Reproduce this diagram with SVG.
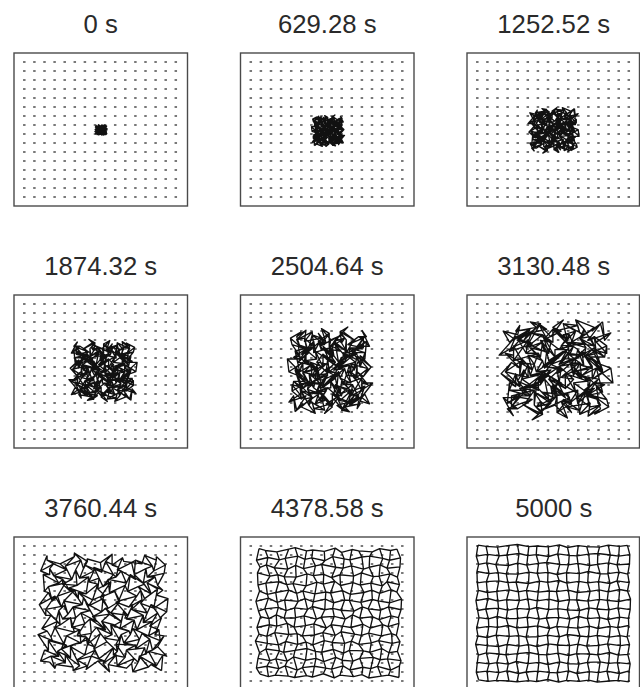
<svg xmlns="http://www.w3.org/2000/svg" width="640" height="687" viewBox="0 0 640 687">
<style>
.box{fill:#fff;stroke:#4a4a4a;stroke-width:1.4}
.t{font-family:"Liberation Sans",Arial,sans-serif;font-size:25.7px;fill:#2a2a2a;text-anchor:middle}
.dots{fill:none;stroke:#4d4d4d;stroke-width:1.6;stroke-dasharray:2.5 7.6}
.m{fill:none;stroke:#111;stroke-width:1.35;stroke-linejoin:round;vector-effect:non-scaling-stroke}
</style>
<defs>
<path id="dots" class="dots" d="M-1.25 0h154M-1.25 9h154M-1.25 18h154M-1.25 27h154M-1.25 36h154M-1.25 45h154M-1.25 54h154M-1.25 63h154M-1.25 72h154M-1.25 81h154M-1.25 90h154M-1.25 99h154M-1.25 108h154M-1.25 117h154M-1.25 126h154M-1.25 135h154"/>
<path id="meshT" class="m" d="M2,-3L-1,1 6,4 14,-2 11,-5 18,2 15,0 22,3 28,-4 25,5 30,-1 28,2 39,4 38,-3 44,1 41,-2
M-3,7L4,1 11,6 7,3 16,-2 15,5 13,2 23,8 23,-1 30,4 26,6 34,0 34,-2 44,3 42,7 48,2
M4,7L1,2 1,8 12,11 12,3 12,10 20,4 17,1 29,7 28,9 29,4 37,11 33,7 39,2 37,9 47,6
M-1,4L8,11 8,8 5,12 13,13 19,6 16,10 21,7 21,14 22,8 33,11 33,4 41,12 37,11 43,6 42,13
M0,15L0,11 10,8 10,14 7,12 17,17 23,9 20,13 27,7 23,16 32,10 31,15 36,11 43,17 37,8 46,14
M3,13L3,20 4,16 14,11 14,18 11,13 19,19 25,15 19,17 27,12 27,20 38,16 38,11 38,18 45,10 41,15
M-4,20L5,13 7,22 6,17 17,20 15,14 16,21 24,15 25,23 31,17 25,18 32,22 39,16 35,19 42,23 50,15
M1,26L-2,21 9,18 9,25 10,19 20,22 14,16 23,23 23,20 24,24 34,26 35,17 31,21 40,24 40,17 49,23
M5,23L6,27 5,19 5,26 12,25 13,21 22,28 16,24 26,22 32,28 31,19 30,26 40,23 37,29 45,21 44,25
M-2,31L7,25 6,28 11,22 9,30 16,27 17,23 26,32 20,25 27,28 28,31 36,24 35,32 44,25 39,29 45,22
M2,30L2,35 2,27 14,31 15,29 10,34 18,32 19,27 28,33 24,25 35,30 33,33 32,28 41,34 46,29 40,33
M-5,30L3,35 9,38 8,31 16,37 17,32 15,38 22,29 22,33 31,35 29,30 28,37 37,34 36,29 47,35 47,31
M3,40L0,32 11,36 4,39 11,35 19,31 20,37 17,39 24,33 29,41 25,35 37,36 34,39 42,31 41,40 42,37
M0,37L8,42 4,38 11,43 8,34 16,41 21,37 21,44 29,35 26,41 32,43 30,37 41,35 39,40 38,38 49,42
M-3,43L2,39 10,44 7,38 15,47 10,42 18,39 25,43 21,45 28,38 26,47 36,41 36,44 34,39 44,47 46,38
M4,41L5,46 3,43 13,45 10,48 18,44 14,47 20,40 26,49 22,43 33,46 34,42 32,49 41,45 40,43 45,48
M2,-3L-3,7 4,7 -1,4 0,15 3,13 -4,20 1,26 5,23 -2,31 2,30 -5,30 3,40 0,37 -3,43 4,41
M-1,1L4,1 1,2 8,11 0,11 3,20 5,13 -2,21 6,27 7,25 2,35 3,35 0,32 8,42 2,39 5,46
M6,4L11,6 1,8 8,8 10,8 4,16 7,22 9,18 5,19 6,28 2,27 9,38 11,36 4,38 10,44 3,43
M14,-2L7,3 12,11 5,12 10,14 14,11 6,17 9,25 5,26 11,22 14,31 8,31 4,39 11,43 7,38 13,45
M11,-5L16,-2 12,3 13,13 7,12 14,18 17,20 10,19 12,25 9,30 15,29 16,37 11,35 8,34 15,47 10,48
M18,2L15,5 12,10 19,6 17,17 11,13 15,14 20,22 13,21 16,27 10,34 17,32 19,31 16,41 10,42 18,44
M15,0L13,2 20,4 16,10 23,9 19,19 16,21 14,16 22,28 17,23 18,32 15,38 20,37 21,37 18,39 14,47
M22,3L23,8 17,1 21,7 20,13 25,15 24,15 23,23 16,24 26,32 19,27 22,29 17,39 21,44 25,43 20,40
M28,-4L23,-1 29,7 21,14 27,7 19,17 25,23 23,20 26,22 20,25 28,33 22,33 24,33 29,35 21,45 26,49
M25,5L30,4 28,9 22,8 23,16 27,12 31,17 24,24 32,28 27,28 24,25 31,35 29,41 26,41 28,38 22,43
M30,-1L26,6 29,4 33,11 32,10 27,20 25,18 34,26 31,19 28,31 35,30 29,30 25,35 32,43 26,47 33,46
M28,2L34,0 37,11 33,4 31,15 38,16 32,22 35,17 30,26 36,24 33,33 28,37 37,36 30,37 36,41 34,42
M39,4L34,-2 33,7 41,12 36,11 38,11 39,16 31,21 40,23 35,32 32,28 37,34 34,39 41,35 36,44 32,49
M38,-3L44,3 39,2 37,11 43,17 38,18 35,19 40,24 37,29 44,25 41,34 36,29 42,31 39,40 34,39 41,45
M44,1L42,7 37,9 43,6 37,8 45,10 42,23 40,17 45,21 39,29 46,29 47,35 41,40 38,38 44,47 40,43
M41,-2L48,2 47,6 42,13 46,14 41,15 50,15 49,23 44,25 45,22 40,33 47,31 42,37 49,42 46,38 45,48"/>
<path id="mesh7" class="m" d="M2,-3L2,1 12,4 23,-2 23,-5 33,2 33,0 43,3 52,-4 52,5 60,-1 61,2 75,4 77,-3 86,1 86,-2
M-3,10L7,4 17,9 16,6 28,1 30,8 31,5 44,11 47,2 57,7 56,9 67,3 70,1 83,6 84,10 93,5
M4,13L4,8 7,14 21,17 24,9 27,16 38,10 38,7 53,13 55,15 59,10 70,17 69,13 78,8 79,15 92,12
M-1,13L11,20 14,17 14,21 25,22 34,15 34,19 42,16 45,23 49,17 63,20 66,13 77,21 76,20 85,15 87,22
M0,27L3,23 16,20 19,26 19,24 32,29 41,21 41,25 51,19 50,28 62,22 64,27 72,23 82,29 79,20 91,26
M3,28L6,35 10,31 23,26 26,33 26,28 37,34 46,30 43,32 54,27 57,35 71,31 74,26 77,33 87,25 86,30
M-4,38L8,31 13,40 15,35 29,38 30,32 34,39 45,33 49,41 58,35 55,36 65,40 75,34 74,37 84,41 95,33
M1,47L1,42 15,39 18,46 22,40 35,43 32,37 44,44 47,41 51,45 64,47 68,38 67,42 79,45 82,38 94,44
M5,47L9,51 11,43 14,50 24,49 28,45 40,52 37,48 50,46 59,52 61,43 63,50 76,47 76,53 87,45 89,49
M-2,58L10,52 12,55 20,49 21,57 31,54 35,50 47,59 44,52 54,55 58,58 69,51 71,59 83,52 81,56 90,49
M2,60L5,65 8,57 23,61 27,59 25,64 36,62 40,57 52,63 51,55 65,60 66,63 68,58 80,64 88,59 85,63
M-5,63L6,68 15,71 17,64 28,70 32,65 33,71 43,62 46,66 58,68 59,63 61,70 73,67 75,62 89,68 92,64
M3,76L3,68 17,72 13,75 23,71 34,67 38,73 38,75 48,69 56,77 55,71 70,72 70,75 81,67 83,76 87,73
M0,76L11,81 10,77 20,82 20,73 31,80 39,76 42,83 53,74 53,80 62,82 63,76 77,74 78,79 80,77 94,81
M-3,85L5,81 16,86 16,80 27,89 25,84 36,81 46,85 45,87 55,80 56,89 69,83 72,86 73,81 86,89 91,80
M4,86L8,91 9,88 22,90 22,93 33,89 32,92 41,85 50,94 49,88 63,91 67,87 68,94 80,90 82,88 90,93
M2,-3L-3,10 4,13 -1,13 0,27 3,28 -4,38 1,47 5,47 -2,58 2,60 -5,63 3,76 0,76 -3,85 4,86
M2,1L7,4 4,8 11,20 3,23 6,35 8,31 1,42 9,51 10,52 5,65 6,68 3,68 11,81 5,81 8,91
M12,4L17,9 7,14 14,17 16,20 10,31 13,40 15,39 11,43 12,55 8,57 15,71 17,72 10,77 16,86 9,88
M23,-2L16,6 21,17 14,21 19,26 23,26 15,35 18,46 14,50 20,49 23,61 17,64 13,75 20,82 16,80 22,90
M23,-5L28,1 24,9 25,22 19,24 26,33 29,38 22,40 24,49 21,57 27,59 28,70 23,71 20,73 27,89 22,93
M33,2L30,8 27,16 34,15 32,29 26,28 30,32 35,43 28,45 31,54 25,64 32,65 34,67 31,80 25,84 33,89
M33,0L31,5 38,10 34,19 41,21 37,34 34,39 32,37 40,52 35,50 36,62 33,71 38,73 39,76 36,81 32,92
M43,3L44,11 38,7 42,16 41,25 46,30 45,33 44,44 37,48 47,59 40,57 43,62 38,75 42,83 46,85 41,85
M52,-4L47,2 53,13 45,23 51,19 43,32 49,41 47,41 50,46 44,52 52,63 46,66 48,69 53,74 45,87 50,94
M52,5L57,7 55,15 49,17 50,28 54,27 58,35 51,45 59,52 54,55 51,55 58,68 56,77 53,80 55,80 49,88
M60,-1L56,9 59,10 63,20 62,22 57,35 55,36 64,47 61,43 58,58 65,60 59,63 55,71 62,82 56,89 63,91
M61,2L67,3 70,17 66,13 64,27 71,31 65,40 68,38 63,50 69,51 66,63 61,70 70,72 63,76 69,83 67,87
M75,4L70,1 69,13 77,21 72,23 74,26 75,34 67,42 76,47 71,59 68,58 73,67 70,75 77,74 72,86 68,94
M77,-3L83,6 78,8 76,20 82,29 77,33 74,37 79,45 76,53 83,52 80,64 75,62 81,67 78,79 73,81 80,90
M86,1L84,10 79,15 85,15 79,20 87,25 84,41 82,38 87,45 81,56 88,59 89,68 83,76 80,77 86,89 82,88
M86,-2L93,5 92,12 87,22 91,26 86,30 95,33 94,44 89,49 90,49 85,63 92,64 87,73 94,81 91,80 90,93"/>
<path id="mesh8" class="m" d="M2,-3L14,1 36,4 59,-2 71,-5 93,2 105,0 127,3 148,-4 160,5 180,-1 193,2 219,4 233,-3 254,1 266,-2
M-3,22L19,16 41,21 52,18 76,13 90,20 103,17 128,23 143,14 165,19 176,21 199,15 214,13 239,18 252,22 273,17
M4,37L16,32 31,38 57,41 72,33 87,40 110,34 122,31 149,37 163,39 179,34 202,41 213,37 234,32 247,39 272,36
M-1,49L23,56 38,53 50,57 73,58 94,51 106,55 126,52 141,59 157,53 183,56 198,49 221,57 232,56 253,51 267,58
M0,75L15,71 40,68 55,74 67,72 92,77 113,69 125,73 147,67 158,76 182,70 196,75 216,71 238,77 247,68 271,74
M3,88L18,95 34,91 59,86 74,93 86,88 109,94 130,90 139,92 162,87 177,95 203,91 218,86 233,93 255,85 266,90
M-4,110L20,103 37,112 51,107 77,110 90,104 106,111 129,105 145,113 166,107 175,108 197,112 219,106 230,109 252,113 275,105
M1,131L13,126 39,123 54,130 70,124 95,127 104,121 128,128 143,125 159,129 184,131 200,122 211,126 235,129 250,122 274,128
M5,143L21,147 35,139 50,146 72,145 88,141 112,148 121,144 146,142 167,148 181,139 195,146 220,143 232,149 255,141 269,145
M-2,166L22,160 36,163 56,157 69,165 91,162 107,158 131,167 140,160 162,163 178,166 201,159 215,167 239,160 249,164 270,157
M2,180L17,185 32,177 59,181 75,179 85,184 108,182 124,177 148,183 159,175 185,180 198,183 212,178 236,184 256,179 265,183
M-5,195L18,200 39,203 53,196 76,202 92,197 105,203 127,194 142,198 166,200 179,195 193,202 217,199 231,194 257,200 272,196
M3,220L15,212 41,216 49,219 71,215 94,211 110,217 122,219 144,213 164,221 175,215 202,216 214,219 237,211 251,220 267,217
M0,232L23,237 34,233 56,238 68,229 91,236 111,232 126,239 149,230 161,236 182,238 195,232 221,230 234,235 248,233 274,237
M-3,253L17,249 40,254 52,248 75,257 85,252 108,249 130,253 141,255 163,248 176,257 201,251 216,254 229,249 254,257 271,248
M4,266L20,271 33,268 58,270 70,273 93,269 104,272 125,265 146,274 157,268 183,271 199,267 212,274 236,270 250,268 270,273
M2,-3L-3,22 4,37 -1,49 0,75 3,88 -4,110 1,131 5,143 -2,166 2,180 -5,195 3,220 0,232 -3,253 4,266
M14,1L19,16 16,32 23,56 15,71 18,95 20,103 13,126 21,147 22,160 17,185 18,200 15,212 23,237 17,249 20,271
M36,4L41,21 31,38 38,53 40,68 34,91 37,112 39,123 35,139 36,163 32,177 39,203 41,216 34,233 40,254 33,268
M59,-2L52,18 57,41 50,57 55,74 59,86 51,107 54,130 50,146 56,157 59,181 53,196 49,219 56,238 52,248 58,270
M71,-5L76,13 72,33 73,58 67,72 74,93 77,110 70,124 72,145 69,165 75,179 76,202 71,215 68,229 75,257 70,273
M93,2L90,20 87,40 94,51 92,77 86,88 90,104 95,127 88,141 91,162 85,184 92,197 94,211 91,236 85,252 93,269
M105,0L103,17 110,34 106,55 113,69 109,94 106,111 104,121 112,148 107,158 108,182 105,203 110,217 111,232 108,249 104,272
M127,3L128,23 122,31 126,52 125,73 130,90 129,105 128,128 121,144 131,167 124,177 127,194 122,219 126,239 130,253 125,265
M148,-4L143,14 149,37 141,59 147,67 139,92 145,113 143,125 146,142 140,160 148,183 142,198 144,213 149,230 141,255 146,274
M160,5L165,19 163,39 157,53 158,76 162,87 166,107 159,129 167,148 162,163 159,175 166,200 164,221 161,236 163,248 157,268
M180,-1L176,21 179,34 183,56 182,70 177,95 175,108 184,131 181,139 178,166 185,180 179,195 175,215 182,238 176,257 183,271
M193,2L199,15 202,41 198,49 196,75 203,91 197,112 200,122 195,146 201,159 198,183 193,202 202,216 195,232 201,251 199,267
M219,4L214,13 213,37 221,57 216,71 218,86 219,106 211,126 220,143 215,167 212,178 217,199 214,219 221,230 216,254 212,274
M233,-3L239,18 234,32 232,56 238,77 233,93 230,109 235,129 232,149 239,160 236,184 231,194 237,211 234,235 229,249 236,270
M254,1L252,22 247,39 253,51 247,68 255,85 252,113 250,122 255,141 249,164 256,179 257,200 251,220 248,233 254,257 250,268
M266,-2L273,17 272,36 267,58 271,74 266,90 275,105 274,128 269,145 270,157 265,183 272,196 267,217 274,237 271,248 270,273"/>
<path id="mesh9" class="m" d="M2,-3L26,1 60,4 95,-2 119,-5 153,2 177,0 211,3 244,-4 268,5 300,-1 325,2 363,4 389,-3 422,1 446,-2
M-3,34L31,28 65,33 88,30 124,25 150,32 175,29 212,35 239,26 273,31 296,33 331,27 358,25 395,30 420,34 453,29
M4,61L28,56 55,62 93,65 120,57 147,64 182,58 206,55 245,61 271,63 299,58 334,65 357,61 390,56 415,63 452,60
M-1,85L35,92 62,89 86,93 121,94 154,87 178,91 210,88 237,95 265,89 303,92 330,85 365,93 388,92 421,87 447,94
M0,123L27,119 64,116 91,122 115,120 152,125 185,117 209,121 243,115 266,124 302,118 328,123 360,119 394,125 415,116 451,122
M3,148L30,155 58,151 95,146 122,153 146,148 181,154 214,150 235,152 270,147 297,155 335,151 362,146 389,153 423,145 446,150
M-4,182L32,175 61,184 87,179 125,182 150,176 178,183 213,177 241,185 274,179 295,180 329,184 363,178 386,181 420,185 455,177
M1,215L25,210 63,207 90,214 118,208 155,211 176,205 212,212 239,209 267,213 304,215 332,206 355,210 391,213 418,206 454,212
M5,239L33,243 59,235 86,242 120,241 148,237 184,244 205,240 242,238 275,244 301,235 327,242 364,239 388,245 423,237 449,241
M-2,274L34,268 60,271 92,265 117,273 151,270 179,266 215,275 236,268 270,271 298,274 333,267 359,275 395,268 417,272 450,265
M2,300L29,305 56,297 95,301 123,299 145,304 180,302 208,297 244,303 267,295 305,300 330,303 356,298 392,304 424,299 445,303
M-5,327L30,332 63,335 89,328 124,334 152,329 177,335 211,326 238,330 274,332 299,327 325,334 361,331 387,326 425,332 452,328
M3,364L27,356 65,360 85,363 119,359 154,355 182,361 206,363 240,357 272,365 295,359 334,360 358,363 393,355 419,364 447,361
M0,388L35,393 58,389 92,394 116,385 151,392 183,388 210,395 245,386 269,392 302,394 327,388 365,386 390,391 416,389 454,393
M-3,421L29,417 64,422 88,416 123,425 145,420 180,417 214,421 237,423 271,416 296,425 333,419 360,422 385,417 422,425 451,416
M4,446L32,451 57,448 94,450 118,453 153,449 176,452 209,445 242,454 265,448 303,451 331,447 356,454 392,450 418,448 450,453
M2,-3L-3,34 4,61 -1,85 0,123 3,148 -4,182 1,215 5,239 -2,274 2,300 -5,327 3,364 0,388 -3,421 4,446
M26,1L31,28 28,56 35,92 27,119 30,155 32,175 25,210 33,243 34,268 29,305 30,332 27,356 35,393 29,417 32,451
M60,4L65,33 55,62 62,89 64,116 58,151 61,184 63,207 59,235 60,271 56,297 63,335 65,360 58,389 64,422 57,448
M95,-2L88,30 93,65 86,93 91,122 95,146 87,179 90,214 86,242 92,265 95,301 89,328 85,363 92,394 88,416 94,450
M119,-5L124,25 120,57 121,94 115,120 122,153 125,182 118,208 120,241 117,273 123,299 124,334 119,359 116,385 123,425 118,453
M153,2L150,32 147,64 154,87 152,125 146,148 150,176 155,211 148,237 151,270 145,304 152,329 154,355 151,392 145,420 153,449
M177,0L175,29 182,58 178,91 185,117 181,154 178,183 176,205 184,244 179,266 180,302 177,335 182,361 183,388 180,417 176,452
M211,3L212,35 206,55 210,88 209,121 214,150 213,177 212,212 205,240 215,275 208,297 211,326 206,363 210,395 214,421 209,445
M244,-4L239,26 245,61 237,95 243,115 235,152 241,185 239,209 242,238 236,268 244,303 238,330 240,357 245,386 237,423 242,454
M268,5L273,31 271,63 265,89 266,124 270,147 274,179 267,213 275,244 270,271 267,295 274,332 272,365 269,392 271,416 265,448
M300,-1L296,33 299,58 303,92 302,118 297,155 295,180 304,215 301,235 298,274 305,300 299,327 295,359 302,394 296,425 303,451
M325,2L331,27 334,65 330,85 328,123 335,151 329,184 332,206 327,242 333,267 330,303 325,334 334,360 327,388 333,419 331,447
M363,4L358,25 357,61 365,93 360,119 362,146 363,178 355,210 364,239 359,275 356,298 361,331 358,363 365,386 360,422 356,454
M389,-3L395,30 390,56 388,92 394,125 389,153 386,181 391,213 388,245 395,268 392,304 387,326 393,355 390,391 385,417 392,450
M422,1L420,34 415,63 421,87 415,116 423,145 420,185 418,206 423,237 417,272 424,299 425,332 419,364 416,389 422,425 418,448
M446,-2L453,29 452,60 447,94 451,122 446,150 455,177 454,212 449,241 450,265 445,303 452,328 447,361 454,393 451,416 450,453"/>
</defs>
<rect width="640" height="687" fill="#fff"/>
<g id="panel-0s">
<rect class="box" x="14" y="53" width="173.5" height="153"/>
<text class="t" x="100.75" y="33.3">0 s</text>
<use href="#dots" transform="translate(24.3 62)"/>
<use href="#meshT" transform="translate(101 130) scale(0.22 0.19) translate(-22.5 -22.5)"/>
</g>
<g id="panel-629">
<rect class="box" x="240.5" y="53" width="173.5" height="153"/>
<text class="t" x="327.25" y="33.3">629.28 s</text>
<use href="#dots" transform="translate(250.8 62)"/>
<use href="#meshT" transform="translate(328 131) scale(-0.6 0.58) translate(-22.5 -22.5)"/>
</g>
<g id="panel-1252">
<rect class="box" x="467" y="53" width="172.5" height="153"/>
<text class="t" x="553.75" y="33.3">1252.52 s</text>
<use href="#dots" transform="translate(477.3 62)"/>
<use href="#meshT" transform="translate(553.5 130) scale(0.93 -0.84) translate(-22.5 -22.5)"/>
</g>
<g id="panel-1874">
<rect class="box" x="14" y="295" width="173.5" height="153"/>
<text class="t" x="100.75" y="275">1874.32 s</text>
<use href="#dots" transform="translate(24.3 304)"/>
<use href="#meshT" transform="translate(103 371) scale(1.24 1.15) translate(-22.5 -22.5)"/>
</g>
<g id="panel-2504">
<rect class="box" x="240.5" y="295" width="173.5" height="153"/>
<text class="t" x="327.25" y="275">2504.64 s</text>
<use href="#dots" transform="translate(250.8 304)"/>
<use href="#meshT" transform="translate(330 371) scale(-1.55 1.6) translate(-22.5 -22.5)"/>
</g>
<g id="panel-3130">
<rect class="box" x="467" y="295" width="172.5" height="153"/>
<text class="t" x="553.75" y="275">3130.48 s</text>
<use href="#dots" transform="translate(477.3 304)"/>
<use href="#meshT" transform="translate(556 369) scale(2.07 -1.85) translate(-22.5 -22.5)"/>
</g>
<g id="panel-3760">
<rect class="box" x="14" y="537" width="173.5" height="153"/>
<text class="t" x="100.75" y="516.7">3760.44 s</text>
<use href="#dots" transform="translate(24.3 546)"/>
<use href="#mesh7" transform="translate(44.5 559) scale(1.3 1.2)"/>
</g>
<g id="panel-4378">
<rect class="box" x="240.5" y="537" width="173.5" height="153"/>
<text class="t" x="327.25" y="516.7">4378.58 s</text>
<use href="#dots" transform="translate(250.8 546)"/>
<use href="#mesh8" transform="translate(258 550) scale(0.522 0.467)"/>
</g>
<g id="panel-5000">
<rect class="box" x="467" y="537" width="172.5" height="153"/>
<text class="t" x="553.75" y="516.7">5000 s</text>
<use href="#dots" transform="translate(477.3 546)"/>
<use href="#mesh9" transform="translate(477.3 546) scale(0.33667 0.3)"/>
</g>
</svg>
